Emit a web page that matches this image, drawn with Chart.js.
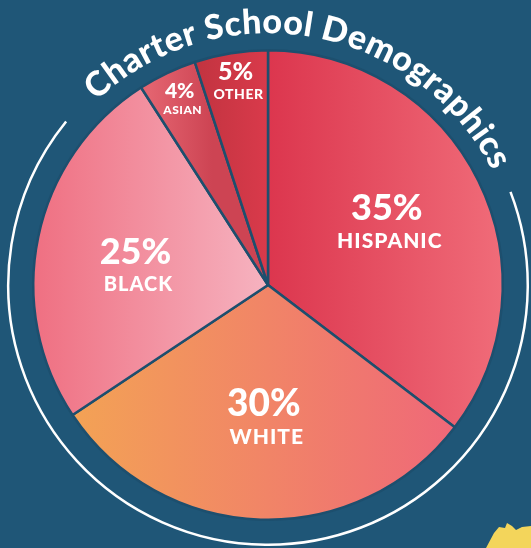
<!DOCTYPE html>
<html>
<head>
<meta charset="utf-8">
<script src="https://cdn.jsdelivr.net/npm/chart.js@4.4.1/dist/chart.umd.min.js"></script>
<style>
  html, body { margin: 0; padding: 0; background: #1f5677; }
  #wrap { width: 531px; height: 548px; position: relative; }
</style>
</head>
<body>
<div id="wrap"><canvas id="demoChart" width="531" height="548"></canvas></div>
<script>
// data
const title = 'Charter School Demographics';
const categories = ['HISPANIC', 'WHITE', 'BLACK', 'ASIAN', 'OTHER'];
const shares = [35, 30, 25, 4, 5];
const pctLabels = ['35%', '30%', '25%', '4%', '5%'];

// slice styling (gradient stops: [x0, x1, colour0, colour1])
var sliceGrad = [
    [268, 503, '#dc364e', '#f06c79'],
    [75, 460, '#f3a255', '#ef6779'],
    [35, 268, '#ef7082', '#f6b3c0'],
    [150, 212, '#e3636f', '#cd4453'],
    [190, 268, '#c0333f', '#d93a4b']
];
// label placement: radius factor, angle nudge (deg), big/small font
var labelPos = [
    { r: 0.57, a: -1, big: 36, small: 21 },
    { r: 0.57, a: 0, big: 37, small: 21 },
    { r: 0.57, a: -4, big: 36, small: 20 },
    { r: 0.875, a: 0, big: 21, small: 12 },
    { r: 0.875, a: 0, big: 25, small: 14 }
];

const FONT = 'Lato, "DejaVu Sans", sans-serif';

var sliceLabels = {
    id: 'sliceLabels',
    afterDatasetsDraw: function(chart) {
        var ctx = chart.ctx;
        var meta = chart.getDatasetMeta(0);
        ctx.save();
        ctx.fillStyle = '#ffffff';
        ctx.textAlign = 'center';
        ctx.textBaseline = 'middle';
        meta.data.forEach(function(arc, i) {
            var p = arc.getProps(['x', 'y', 'startAngle', 'endAngle', 'outerRadius'], true);
            var mid = (p.startAngle + p.endAngle) / 2 + labelPos[i].a * Math.PI / 180;
            var rr = p.outerRadius * labelPos[i].r;
            var cx = p.x + Math.cos(mid) * rr;
            var cy = p.y + Math.sin(mid) * rr;
            var big = labelPos[i].big, small = labelPos[i].small;
            ctx.letterSpacing = '0px';
            ctx.font = '900 ' + big + 'px ' + FONT;
            ctx.fillText(pctLabels[i], cx, cy - small * 0.7);
            ctx.letterSpacing = (small > 15 ? 1 : 0.5) + 'px';
            ctx.font = '900 ' + small + 'px ' + FONT;
            ctx.fillText(categories[i], cx + 3, cy + big * 0.5);
        });
        ctx.restore();
    }
};

var decorations = {
    id: 'decorations',
    afterDraw: function(chart) {
        var ctx = chart.ctx;
        var arc = chart.getDatasetMeta(0).data[0];
        var cx = arc.x, cy = arc.y, R = arc.outerRadius;
        ctx.save();

        // outer white ring
        ctx.strokeStyle = '#ffffff';
        ctx.lineWidth = 2.5;
        ctx.beginPath();
        ctx.arc(cx, cy, R + 25, -21 * Math.PI / 180, 219 * Math.PI / 180);
        ctx.stroke();

        // curved title
        ctx.fillStyle = '#ffffff';
        ctx.font = '900 34px ' + FONT;
        ctx.textAlign = 'center';
        ctx.textBaseline = 'alphabetic';
        var rText = R + 17;
        var startA = -43 * Math.PI / 180, endA = 63 * Math.PI / 180;
        var widths = title.split('').map(function(ch) { return ctx.measureText(ch).width; });
        var total = widths.reduce(function(a, b) { return a + b; }, 0);
        var spacing = ((endA - startA) * rText - total) / (title.length - 1);
        var pos = 0;
        for (var i = 0; i < title.length; i++) {
            var a = startA + (pos + widths[i] / 2) / rText;
            ctx.save();
            ctx.translate(cx + Math.sin(a) * rText, cy - Math.cos(a) * rText);
            ctx.rotate(a);
            ctx.fillText(title[i], 0, 0);
            ctx.restore();
            pos += widths[i] + spacing;
        }

        // little yellow shape bottom right
        ctx.fillStyle = '#f3d55b';
        ctx.beginPath();
        ctx.moveTo(486, 548);
        ctx.lineTo(494, 533);
        ctx.lineTo(499, 527);
        ctx.lineTo(505, 528);
        ctx.lineTo(507, 523);
        ctx.lineTo(512, 526);
        ctx.lineTo(516, 530);
        ctx.lineTo(522, 527);
        ctx.lineTo(531, 526);
        ctx.lineTo(531, 548);
        ctx.closePath();
        ctx.fill();
        ctx.restore();
    }
};

var ctx = document.getElementById('demoChart').getContext('2d');
var chart = new Chart(ctx, {
    type: 'pie',
    data: {
        labels: categories,
        datasets: [{
            data: shares,
            backgroundColor: function(context) {
                var c = context.chart;
                if (!c.chartArea) return '#e05060';
                var g = sliceGrad[context.dataIndex];
                var grad = c.ctx.createLinearGradient(g[0], 0, g[1], 0);
                grad.addColorStop(0, g[2]);
                grad.addColorStop(1, g[3]);
                return grad;
            },
            borderColor: '#1d4f6e',
            borderWidth: 2.5,
            hoverOffset: 0
        }]
    },
    options: {
        responsive: false,
        animation: false,
        layout: {
            padding: { left: 32, right: 27, top: 49, bottom: 27 }
        },
        plugins: {
            legend: { display: false },
            tooltip: { enabled: false }
        }
    },
    plugins: [sliceLabels, decorations]
});
</script>
</body>
</html>
